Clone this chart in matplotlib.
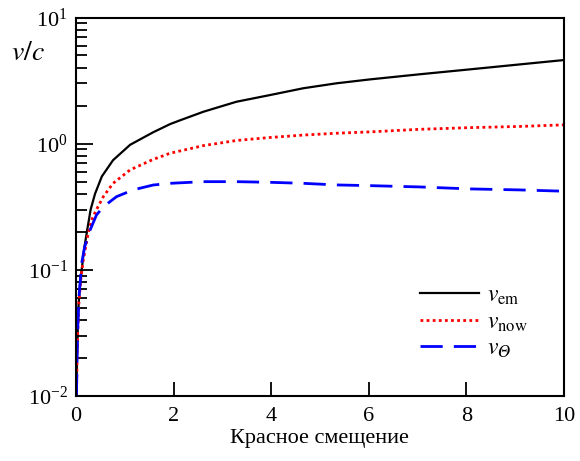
import numpy as np
import matplotlib
matplotlib.use("Agg")
import matplotlib.pyplot as plt
from matplotlib.ticker import LogLocator, FixedLocator

# -----------------------------------
# Data
# -----------------------------------

z_em = [0.01, 0.02, 0.05, 0.08, 0.117, 0.164, 0.23, 0.30, 0.39, 0.53, 0.76,
        1.11, 1.58, 1.93, 2.13, 2.61, 3.29, 3.98, 4.66, 5.34, 6.02, 7.05,
        8.07, 9.1, 10.0]
v_em = [0.01, 0.02, 0.05, 0.075, 0.10, 0.144, 0.207, 0.30, 0.40, 0.55, 0.74,
        0.98, 1.23, 1.43, 1.53, 1.79, 2.15, 2.43, 2.75, 3.01, 3.23, 3.55,
        3.88, 4.25, 4.6]

z_now = [0.01, 0.03, 0.06, 0.1, 0.15, 0.25, 0.32, 0.42, 0.56, 0.76, 1.11,
         1.58, 1.93, 2.61, 3.29, 3.98, 4.66, 5.34, 6.02, 7.05, 8.07, 9.1,
         10.0]
v_now = [0.01, 0.028, 0.055, 0.085, 0.12, 0.195, 0.248, 0.30, 0.38, 0.485,
         0.62, 0.75, 0.84, 0.965, 1.06, 1.12, 1.17, 1.21, 1.24, 1.30, 1.34,
         1.37, 1.41]

z_th = [0.01, 0.03, 0.06, 0.117, 0.18, 0.29, 0.42, 0.56, 0.83, 1.17, 1.58,
        1.93, 2.61, 3.29, 3.98, 4.66, 5.34, 6.02, 7.05, 8.07, 9.1, 10.0]
v_th = [0.01, 0.03, 0.06, 0.113, 0.153, 0.207, 0.272, 0.316, 0.38, 0.43,
        0.47, 0.485, 0.50, 0.50, 0.494, 0.485, 0.471, 0.465, 0.454, 0.438,
        0.43, 0.42]

x_ticks = [0, 2, 4, 6, 8, 10]

# -----------------------------------
# Style
# -----------------------------------

plt.rcParams["font.family"] = ["Liberation Serif", "DejaVu Serif"]
plt.rcParams["mathtext.fontset"] = "stix"
plt.rcParams["font.size"] = 16

fig = plt.figure(figsize=(5.8, 4.61), dpi=100)
ax = fig.add_axes([0.131, 0.141, 0.841, 0.821])

ax.plot(z_em, v_em, color="black", lw=1.6, label=r"$v_{\rm em}$")
ax.plot(z_now, v_now, color="red", lw=2.0, dashes=(1, 1.2),
        label=r"$v_{\rm now}$")
# math italic capital theta (U+1D6E9)
ax.plot(z_th, v_th, color="blue", lw=2.0, dashes=(8, 4),
        label="$v_{\U0001D6E9}$")

ax.set_yscale("log")
ax.set_xlim(0, 10)
ax.set_ylim(1e-2, 1e1)

ax.xaxis.set_major_locator(FixedLocator(x_ticks))
ax.yaxis.set_major_locator(LogLocator(base=10, numticks=10))
ax.yaxis.set_minor_locator(LogLocator(base=10, subs=np.arange(2, 10),
                                      numticks=20))

ax.tick_params(which="both", direction="in", top=False, right=False,
               labelsize=16, width=1.3)
ax.tick_params(axis="y", which="major", length=12, pad=6)
ax.tick_params(axis="y", which="minor", length=8)
ax.tick_params(axis="x", which="major", length=10, pad=8)

for s in ax.spines.values():
    s.set_linewidth(1.5)

ax.set_xlabel("Красное смещение", fontsize=16, labelpad=2)
ax.text(-0.098, 0.906, r"$v/c$", transform=ax.transAxes, fontsize=20,
        ha="center", va="center")

ax.legend(loc="lower right", frameon=False, fontsize=17,
          handlelength=2.5, handletextpad=0.35, borderaxespad=0,
          bbox_to_anchor=(0.945, 0.07), labelspacing=0.2)

fig.savefig("out.png", dpi=100)
